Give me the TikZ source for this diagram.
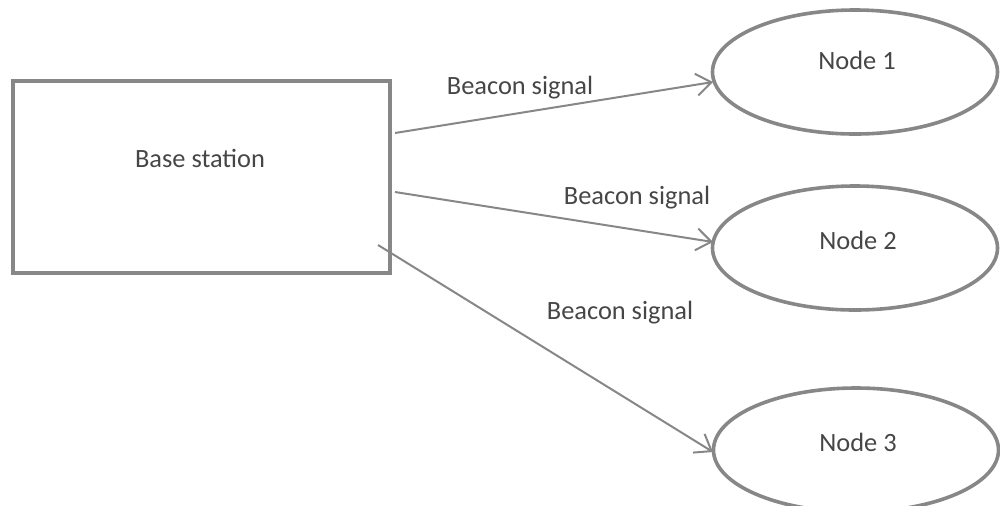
\documentclass[tikz,border=0pt]{standalone}
\usepackage{fontspec}
\setmainfont{Carlito}
\usetikzlibrary{shapes.geometric,arrows.meta}
\definecolor{linegray}{RGB}{135,135,135}
\definecolor{textgray}{RGB}{70,70,70}
\begin{document}
\begin{tikzpicture}[x=0.5pt,y=-0.5pt,
  lbl/.style={font=\fontsize{13.2pt}{15pt}\selectfont, text=textgray, inner sep=0pt},
  boxst/.style={draw=linegray, line width=2pt, minimum width=377*0.5pt, minimum height=192*0.5pt, inner sep=0pt},
  ell/.style={ellipse, draw=linegray, line width=1.8pt, minimum width=285*0.5pt, minimum height=124*0.5pt, inner sep=0pt},
  sig/.style={draw=linegray, line width=1pt, -{Straight Barb[length=7.5pt, width=11pt, line width=1pt]}}]
\useasboundingbox (0,0) rectangle (1000,505);
\node[boxst] (bs) at (201.5,177) {};
\node[lbl] (bst) at (200,158) {Base station};
\node[ell] (n1) at (855,72) {};
\node[ell] (n2) at (855,248) {};
\node[ell] (n3) at (856,450) {};
\node[lbl] (t1) at (857,60) {Node 1};
\node[lbl] (t2) at (858,240) {Node 2};
\node[lbl] (t3) at (858,442) {Node 3};
\coordinate (s1) at (395,133);
\coordinate (s2) at (395,192);
\coordinate (s3) at (378,245);
\coordinate (e1) at (713,82);
\coordinate (e2) at (713,242);
\coordinate (e3) at (713,452);
\draw[sig] (s1) -- (e1);
\draw[sig] (s2) -- (e2);
\draw[sig] (s3) -- (e3);
\node[lbl] (l1) at (520,88) {Beacon signal};
\node[lbl] (l2) at (637,198) {Beacon signal};
\node[lbl] (l3) at (620,313) {Beacon signal};
\end{tikzpicture}
\end{document}
